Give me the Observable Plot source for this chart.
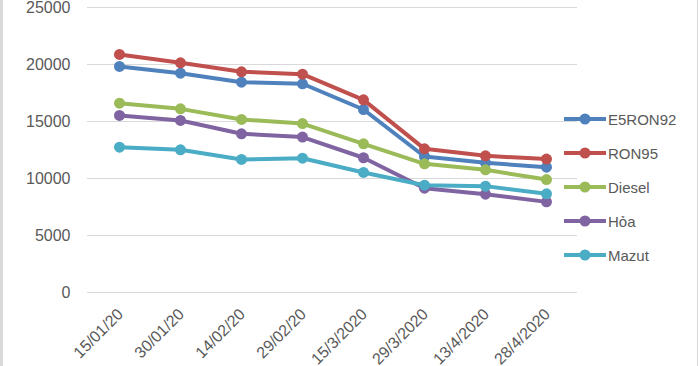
<!DOCTYPE html>
<html>
<head>
<meta charset="utf-8">
<script src="https://cdn.jsdelivr.net/npm/d3@7"></script>
<script src="https://cdn.jsdelivr.net/npm/@observablehq/plot@0.6"></script>
<style>
  html, body { margin: 0; padding: 0; background: #fff; }
  #wrap { position: relative; width: 700px; height: 366px; overflow: hidden; font-family: "Liberation Sans", Arial, sans-serif; }
  #edgeL { position: absolute; left: 0; top: 0; width: 3px; height: 366px; background: #d9d9d9; }
  #edgeR { position: absolute; left: 697px; top: 0; width: 1px; height: 366px; background: #d9d9d9; }
  #legend { position: absolute; left: 564px; top: 102px; }
  .row { display: flex; align-items: center; height: 34px; }
  .row span { font-size: 15px; color: #595959; margin-left: 2px; }
</style>
</head>
<body>
<div id="wrap"><div id="edgeL"></div><div id="edgeR"></div><div id="legend"></div></div>
<script>
const dates = ["15/01/20", "30/01/20", "14/02/20", "29/02/20", "15/3/2020", "29/3/2020", "13/4/2020", "28/4/2020"];
const seriesNames = ["E5RON92", "RON95", "Diesel", "Hỏa", "Mazut"];
const colors = ["#4F81BD", "#C0504D", "#9BBB59", "#8064A2", "#4BACC6"];
const e5ron92 = [19830, 19240, 18450, 18310, 16050, 11930, 11380, 10990];
const ron95 = [20880, 20150, 19360, 19150, 16900, 12600, 11990, 11700];
const diesel = [16610, 16110, 15180, 14820, 13040, 11290, 10760, 9910];
const hoa = [15530, 15090, 13920, 13630, 11820, 9150, 8620, 7950];
const mazut = [12750, 12520, 11670, 11780, 10530, 9410, 9330, 8660];
const yTicks = [0, 5000, 10000, 15000, 20000, 25000];

const valuesList = [e5ron92, ron95, diesel, hoa, mazut];
const data = [];
seriesNames.forEach((s, i) => valuesList[i].forEach((v, j) => data.push({series: s, date: dates[j], value: v})));

const color = {domain: seriesNames, range: colors};
const marks = [
  Plot.gridY(yTicks, {stroke: "#d9d9d9", strokeOpacity: 1, strokeWidth: 1}),
  Plot.axisY(yTicks, {tickSize: 0, tickPadding: 17, fontSize: 16, fill: "#595959", tickFormat: d => String(d)}),
  Plot.axisX({tickRotate: -45, tickSize: 0, tickPadding: 19, dx: 1, fontSize: 16, fill: "#595959"})
];
seriesNames.forEach(s => {
  const d = data.filter(r => r.series === s);
  marks.push(Plot.line(d, {x: "date", y: "value", stroke: "series", strokeWidth: 4, strokeLinejoin: "round"}));
  marks.push(Plot.dot(d, {x: "date", y: "value", fill: "series", r: 5.5}));
});

const chart = Plot.plot({
  width: 700,
  height: 366,
  marginLeft: 87,
  marginRight: 123,
  marginTop: 7,
  marginBottom: 74,
  style: {fontFamily: "'Liberation Sans', Arial, sans-serif", background: "transparent", overflow: "visible"},
  x: {type: "point", domain: dates, padding: 0.5, label: null},
  y: {domain: [0, 25000], label: null},
  color,
  marks
});
const wrap = document.getElementById("wrap");
wrap.insertBefore(chart, wrap.firstChild);

const legend = document.getElementById("legend");
seriesNames.forEach((s, i) => {
  const row = document.createElement("div");
  row.className = "row";
  row.innerHTML = `<svg width="42" height="12"><line x1="0" x2="42" y1="6" y2="6" stroke="${colors[i]}" stroke-width="4"/><circle cx="21" cy="6" r="5.5" fill="${colors[i]}"/></svg><span>${s}</span>`;
  legend.appendChild(row);
});
</script>
</body>
</html>
